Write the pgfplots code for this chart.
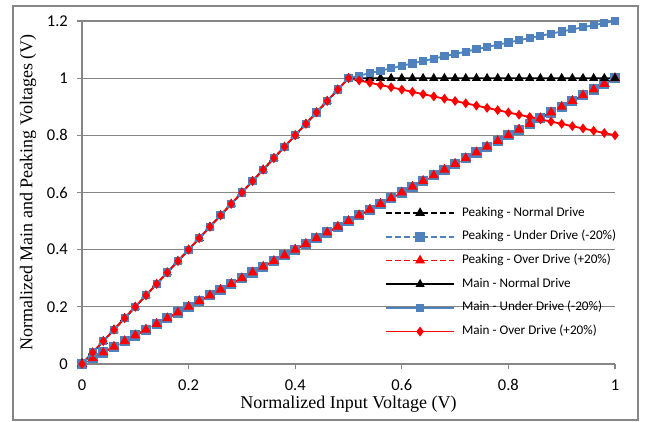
\documentclass[border=0pt]{standalone}
\usepackage{fontspec}
\setmainfont{Liberation Serif}
\newfontfamily\calibri{Carlito}
\usepackage{pgfplots}
\usepackage{pgfplotstable}
\pgfplotsset{compat=1.18}
\definecolor{xlblue}{RGB}{79,129,189}
\definecolor{gridgray}{RGB}{134,134,134}

% x, peaking (all drives), main normal / under / over
\pgfplotstableread{
x    pk   mn   mu     mo
0.00 0.00 0.00 0.00   0.00
0.02 0.02 0.04 0.04   0.04
0.04 0.04 0.08 0.08   0.08
0.06 0.06 0.12 0.12   0.12
0.08 0.08 0.16 0.16   0.16
0.10 0.10 0.20 0.20   0.20
0.12 0.12 0.24 0.24   0.24
0.14 0.14 0.28 0.28   0.28
0.16 0.16 0.32 0.32   0.32
0.18 0.18 0.36 0.36   0.36
0.20 0.20 0.40 0.40   0.40
0.22 0.22 0.44 0.44   0.44
0.24 0.24 0.48 0.48   0.48
0.26 0.26 0.52 0.52   0.52
0.28 0.28 0.56 0.56   0.56
0.30 0.30 0.60 0.60   0.60
0.32 0.32 0.64 0.64   0.64
0.34 0.34 0.68 0.68   0.68
0.36 0.36 0.72 0.72   0.72
0.38 0.38 0.76 0.76   0.76
0.40 0.40 0.80 0.80   0.80
0.42 0.42 0.84 0.84   0.84
0.44 0.44 0.88 0.88   0.88
0.46 0.46 0.92 0.92   0.92
0.48 0.48 0.96 0.96   0.96
0.50 0.50 1.00 1.00   1.00
0.52 0.52 1.00 1.0088 0.992
0.54 0.54 1.00 1.0175 0.984
0.56 0.56 1.00 1.0261 0.976
0.58 0.58 1.00 1.0347 0.968
0.60 0.60 1.00 1.0432 0.960
0.62 0.62 1.00 1.0516 0.952
0.64 0.64 1.00 1.0600 0.944
0.66 0.66 1.00 1.0684 0.936
0.68 0.68 1.00 1.0766 0.928
0.70 0.70 1.00 1.0848 0.920
0.72 0.72 1.00 1.0929 0.912
0.74 0.74 1.00 1.1010 0.904
0.76 0.76 1.00 1.1090 0.896
0.78 0.78 1.00 1.1169 0.888
0.80 0.80 1.00 1.1248 0.880
0.82 0.82 1.00 1.1326 0.872
0.84 0.84 1.00 1.1404 0.864
0.86 0.86 1.00 1.1480 0.856
0.88 0.88 1.00 1.1557 0.848
0.90 0.90 1.00 1.1632 0.840
0.92 0.92 1.00 1.1707 0.832
0.94 0.94 1.00 1.1781 0.824
0.96 0.96 1.00 1.1855 0.816
0.98 0.98 1.00 1.1928 0.808
1.00 1.00 1.00 1.2000 0.800
}\drive

\begin{document}
\begin{tikzpicture}
\begin{axis}[
    at={(0,0)}, anchor=south west,
    scale only axis,
    width=533pt, height=343pt,
    xmin=0, xmax=1, ymin=0, ymax=1.2,
    xtick={0,0.2,0.4,0.6,0.8,1},
    ytick={0,0.2,0.4,0.6,0.8,1,1.2},
    /pgf/number format/assume math mode=true,
    ticklabel style={font=\calibri\fontsize{16.5}{19}\selectfont},
    xticklabel style={anchor=base, inner sep=0pt, yshift=-22pt},
    yticklabel style={anchor=east, inner sep=0pt, xshift=-9pt},
    axis lines*=left,
    axis line style={gridgray, line width=1.2pt},
    tick style={gridgray, line width=1.2pt},
    tick align=outside, major tick length=5pt,
    ymajorgrids, grid style={gridgray, line width=1.2pt},
    xlabel={Normalized Input Voltage (V)},
    ylabel={Normalized Main and Peaking Voltages (V)},
    label style={font=\fontsize{18}{21}\selectfont},
    xlabel style={at={(axis description cs:0.5,0)}, anchor=base, inner sep=0pt, yshift=-45pt},
    ylabel style={at={(axis description cs:0,0.5)}, anchor=center, yshift=54pt},
    clip=false,
    legend image code/.code={\draw[mark repeat=2, mark phase=2, #1]
        plot coordinates {(0pt,0pt) (34pt,0pt) (68pt,0pt)};},
    legend cell align=left,
    legend style={at={(0.5685,0.4595)}, anchor=north west, draw=none, fill=none,
        inner sep=0pt, row sep=10.7pt, column sep=7pt,
        font=\calibri\fontsize{13.2}{15}\selectfont,
        nodes={inner sep=0pt, text height=9.5pt, text depth=3.5pt}},
]
\addplot[black, dash pattern=on 6pt off 3pt, line width=1.8pt, mark=triangle*, mark size=4pt, mark options={solid}]
    table[x=x, y=pk] {\drive};
\addlegendentry{Peaking - Normal Drive}
\addplot[xlblue, dash pattern=on 6pt off 3pt, line width=1.8pt, mark=square*, mark size=4.2pt, mark options={solid}]
    table[x=x, y=pk] {\drive};
\addlegendentry{Peaking - Under Drive (-20\%)}
\addplot[red, dash pattern=on 6pt off 3pt, line width=1.8pt, mark=triangle*, mark size=4pt, mark options={solid}]
    table[x=x, y=pk] {\drive};
\addlegendentry{Peaking - Over Drive (+20\%)}
\addplot[black, line width=1.8pt, mark=triangle*, mark size=3.5pt]
    table[x=x, y=mn] {\drive};
\addlegendentry{Main - Normal Drive}
\addplot[xlblue, line width=1.8pt, mark=square*, mark size=3.2pt]
    table[x=x, y=mu] {\drive};
\addlegendentry{Main - Under Drive (-20\%)}
\addplot[red, line width=1.8pt, mark=diamond*, mark size=3.5pt]
    table[x=x, y=mo] {\drive};
\addlegendentry{Main - Over Drive (+20\%)}
\end{axis}
\draw[gridgray, line width=1.2pt] (-69pt,-56pt) rectangle (556pt,358pt);
\pgfresetboundingbox
\path[use as bounding box] (-82pt,-58pt) rectangle (564pt,364pt);
\end{tikzpicture}
\end{document}
